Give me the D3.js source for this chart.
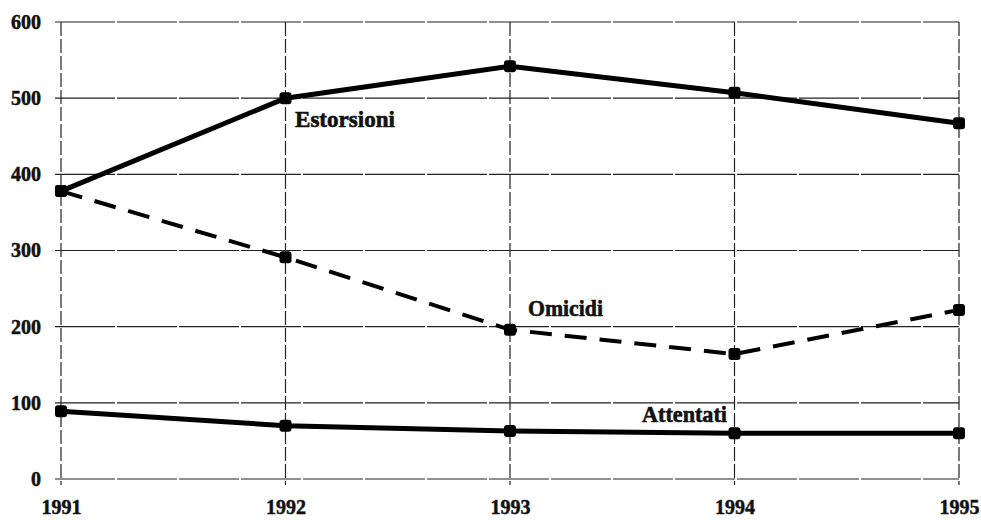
<!DOCTYPE html>
<html>
<head>
<meta charset="utf-8">
<script src="https://cdn.jsdelivr.net/npm/d3@7"></script>
<style>
  body { margin: 0; background: #fff; overflow: hidden; }
  svg { display: block; }
  text { font-family: 'Liberation Serif', 'Times New Roman', 'DejaVu Serif', serif; font-weight: bold; fill: #111; }
</style>
</head>
<body>
<div id="chart"></div>
<script>
// data
var years = [1991, 1992, 1993, 1994, 1995];
var estorsioni = [378, 500, 542, 507, 467];
var omicidi = [378, 291, 196, 164, 222];
var attentati = [89, 70, 63, 60, 60];
var yTicks = [0, 100, 200, 300, 400, 500, 600];

// set up chart
var svgWidth = 981;
var svgHeight = 520;

var margin = { top: 22, right: 22, bottom: 41, left: 61 };
var width = svgWidth - margin.left - margin.right;
var height = svgHeight - margin.top - margin.bottom;

var svg = d3.select('#chart')
  .append('svg')
  .attr('width', svgWidth)
  .attr('height', svgHeight);

var chartGroup = svg.append('g')
  .attr('transform', `translate(${margin.left}, ${margin.top})`);

// scales
var xScale = d3.scaleLinear()
  .domain([1991, 1995])
  .range([0, width]);

var yScale = d3.scaleLinear()
  .domain([0, 600])
  .range([height, 0]);

// gridlines
chartGroup.append('g')
  .selectAll('line')
  .data(yTicks)
  .enter()
  .append('line')
  .attr('x1', -6)
  .attr('x2', width)
  .attr('y1', d => yScale(d))
  .attr('y2', d => yScale(d))
  .attr('stroke', '#222')
  .attr('stroke-width', 1.2)
  .attr('stroke-dasharray', '60,2');

chartGroup.append('g')
  .selectAll('line')
  .data(years)
  .enter()
  .append('line')
  .attr('x1', d => xScale(d))
  .attr('x2', d => xScale(d))
  .attr('y1', 0)
  .attr('y2', height + 6)
  .attr('stroke', '#222')
  .attr('stroke-width', 1.2)
  .attr('stroke-dasharray', '14,3');

// axis labels
var leftAxis = d3.axisLeft(yScale).tickValues(yTicks).tickSize(0).tickPadding(20);
var bottomAxis = d3.axisBottom(xScale).tickValues(years).tickFormat(d3.format('d')).tickSize(0).tickPadding(21);

var yAxisG = chartGroup.append('g').call(leftAxis);
var xAxisG = chartGroup.append('g')
  .attr('transform', `translate(0, ${height})`)
  .call(bottomAxis);

[yAxisG, xAxisG].forEach(function(g) {
  g.attr('font-family', null).attr('font-size', null);
  g.select('.domain').remove();
  g.selectAll('text')
    .style('font-size', '20px')
    .style('stroke', '#111')
    .style('stroke-width', '0.5px')
    .attr('fill', '#111');
});

// series
var line = d3.line()
  .x((d, i) => xScale(years[i]))
  .y(d => yScale(d));

var series = [
  { name: 'Estorsioni', values: estorsioni, dash: null },
  { name: 'Omicidi', values: omicidi, dash: '22,13' },
  { name: 'Attentati', values: attentati, dash: null }
];

series.forEach(function(s) {
  chartGroup.append('path')
    .datum(s.values)
    .attr('d', line)
    .attr('fill', 'none')
    .attr('stroke', '#000')
    .attr('stroke-width', s.dash ? 4 : 5)
    .attr('stroke-dasharray', s.dash);

  chartGroup.append('g')
    .selectAll('rect')
    .data(s.values)
    .enter()
    .append('rect')
    .attr('x', (d, i) => xScale(years[i]) - 6)
    .attr('y', d => yScale(d) - 6)
    .attr('width', 12)
    .attr('height', 12)
    .attr('rx', 3)
    .attr('fill', '#000');
});

// series labels
function seriesLabel(x, y, len, txt) {
  svg.append('text')
    .attr('x', x)
    .attr('y', y)
    .attr('textLength', len)
    .attr('lengthAdjust', 'spacingAndGlyphs')
    .style('font-size', '23px')
    .style('stroke', '#111')
    .style('stroke-width', '0.6px')
    .text(txt);
}

seriesLabel(295, 127, 100, 'Estorsioni');
seriesLabel(528, 316, 75, 'Omicidi');
seriesLabel(642, 422, 85, 'Attentati');
</script>
</body>
</html>
